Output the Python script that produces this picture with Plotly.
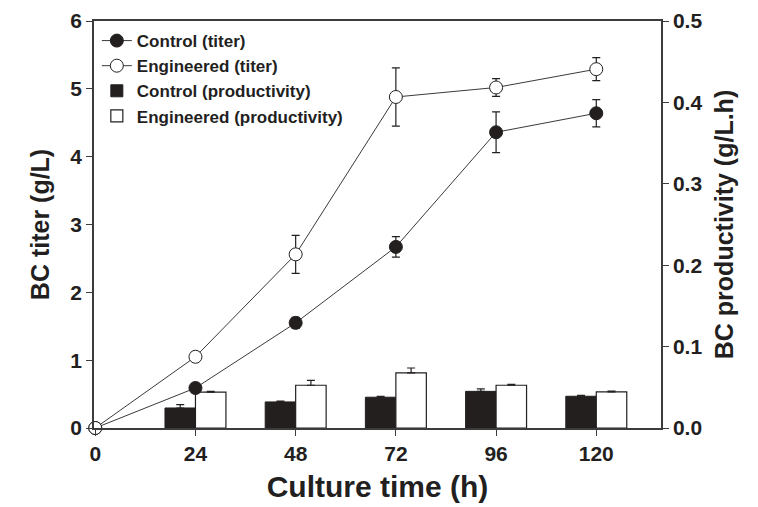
import plotly.graph_objects as go

# culture time (h)
time_h = [0, 24, 48, 72, 96, 120]
bar_time = [24, 48, 72, 96, 120]

# BC titer (g/L)
control_titer = [0.0, 0.59, 1.55, 2.67, 4.36, 4.64]
control_titer_err = [0.0, 0.03, 0.08, 0.15, 0.30, 0.20]
engineered_titer = [0.0, 1.05, 2.56, 4.88, 5.02, 5.29]
engineered_titer_err = [0.0, 0.03, 0.28, 0.43, 0.13, 0.17]

# BC productivity (g/L.h)
control_prod = [0.0246, 0.032, 0.0378, 0.045, 0.039]
control_prod_err = [0.004, 0.001, 0.001, 0.003, 0.001]
engineered_prod = [0.044, 0.0525, 0.0677, 0.0525, 0.0443]
engineered_prod_err = [0.001, 0.006, 0.006, 0.001, 0.001]

FONT = "Liberation Sans, Arial, sans-serif"
INK = "#231f1f"
AXIS = "#3c3c3c"
bar_w = 7.3

fig = go.Figure()

# bars go on the primary axis (drawn on the right) so the titer lines sit on top
fig.add_trace(go.Bar(
    x=bar_time, y=control_prod, name="Control (productivity)", legendrank=3,
    width=bar_w, offset=-bar_w,
    marker=dict(color=INK, line=dict(color=INK, width=1)),
    error_y=dict(type="data", array=control_prod_err, arrayminus=[0] * 5,
                 symmetric=False, color=INK, thickness=1.2, width=4),
    yaxis="y",
))
fig.add_trace(go.Bar(
    x=bar_time, y=engineered_prod, name="Engineered (productivity)", legendrank=4,
    width=bar_w, offset=0,
    marker=dict(color="white", line=dict(color=INK, width=1.2)),
    error_y=dict(type="data", array=engineered_prod_err, arrayminus=[0] * 5,
                 symmetric=False, color=INK, thickness=1.2, width=4),
    yaxis="y",
))

fig.add_trace(go.Scatter(
    x=time_h, y=control_titer, name="Control (titer)", legendrank=1,
    mode="lines+markers",
    line=dict(color="#3a3a3a", width=1),
    marker=dict(symbol="circle", size=13, color=INK, line=dict(color=INK, width=1)),
    error_y=dict(type="data", array=control_titer_err, color=INK, thickness=1.2, width=4),
    cliponaxis=False, yaxis="y2",
))
fig.add_trace(go.Scatter(
    x=time_h, y=engineered_titer, name="Engineered (titer)", legendrank=2,
    mode="lines+markers",
    line=dict(color="#3a3a3a", width=1),
    marker=dict(symbol="circle", size=13, color="white", line=dict(color=INK, width=1)),
    error_y=dict(type="data", array=engineered_titer_err, color=INK, thickness=1.2, width=4),
    cliponaxis=False, yaxis="y2",
))

tickfont = dict(family=FONT, size=21, color=INK, weight="bold")
titlefont = dict(family=FONT, size=25, color=INK, weight="bold")

fig.update_layout(
    width=758, height=507,
    margin=dict(l=86, r=105, t=13, b=87),
    paper_bgcolor="white", plot_bgcolor="white",
    showlegend=True,
    legend=dict(
        x=0.005, y=0.995, xanchor="left", yanchor="top",
        bgcolor="rgba(0,0,0,0)",
        font=dict(family=FONT, size=17, color=INK, weight="bold"),
        tracegroupgap=0, itemwidth=30,
    ),
    xaxis=dict(
        range=[-0.3, 135.5], tickvals=[0, 24, 48, 72, 96, 120],
        showgrid=False, zeroline=False, automargin=False,
        showline=True, linecolor=AXIS, linewidth=1.5, mirror=True,
        ticks="outside", ticklen=6, tickcolor=AXIS, tickwidth=1.2,
        tickfont=tickfont,
        title=dict(text="Culture time (h)", font=dict(family=FONT, size=30, color=INK, weight="bold"),
                   standoff=12),
    ),
    yaxis=dict(
        side="right", range=[0, 0.5], tickvals=[0, 0.1, 0.2, 0.3, 0.4, 0.5],
        tickformat=".1f",
        showgrid=False, zeroline=False, automargin=False,
        showline=True, linecolor=AXIS, linewidth=1.5,
        ticks="outside", ticklen=6, tickcolor=AXIS, tickwidth=1.2,
        tickfont=tickfont,
        title=dict(text="BC productivity (g/L.h)", font=titlefont, standoff=14),
    ),
    yaxis2=dict(
        side="left", overlaying="y", range=[0, 6], tickvals=[0, 1, 2, 3, 4, 5, 6],
        showgrid=False, zeroline=False, automargin=False,
        showline=True, linecolor=AXIS, linewidth=1.5,
        ticks="outside", ticklen=6, tickcolor=AXIS, tickwidth=1.2,
        tickfont=tickfont,
        title=dict(text="BC titer (g/L)", font=titlefont, standoff=14),
    ),
)

fig.write_html("out.html")
